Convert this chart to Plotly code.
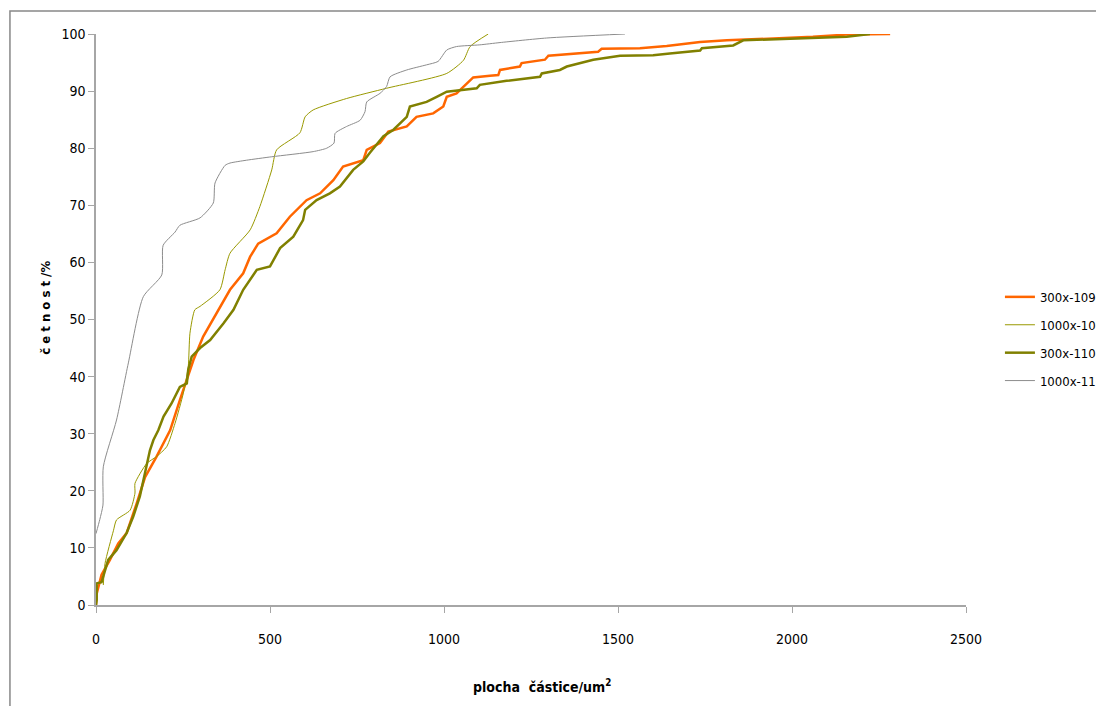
import plotly.graph_objects as go

# 300x-109 (orange, thick)
x_300_109 = [0, 2, 16, 40, 64, 88, 117, 141, 174, 213, 241, 265, 280, 308, 347, 385, 423, 443, 466, 519, 557, 605, 644, 682, 710, 768, 778, 816, 840, 893, 921, 969, 998, 1008, 1036, 1084, 1132, 1156, 1161, 1218, 1223, 1290, 1300, 1443, 1453, 1563, 1640, 1736, 1813, 1966, 2060, 2157, 2282]
y_300_109 = [0, 2, 5.3, 7.9, 10.8, 12.6, 17.8, 22.4, 26, 30.6, 35.9, 40, 42.9, 47, 51.1, 55.2, 58.1, 61, 63.3, 65.1, 68, 70.9, 72.1, 74.4, 76.8, 77.9, 79.7, 80.9, 82.9, 83.8, 85.5, 86.1, 87.3, 89, 89.6, 92.4, 92.7, 92.8, 93.7, 94.3, 94.9, 95.5, 96.2, 96.9, 97.4, 97.5, 97.9, 98.6, 98.9, 99.2, 99.5, 99.9, 100]

# 1000x-109 (olive, thin)
x_1000_109 = [21, 26, 50, 59, 98, 112, 112, 146, 174, 203, 227, 251, 265, 270, 284, 299, 356, 371, 385, 443, 471, 505, 519, 586, 601, 624, 720, 835, 1008, 1056, 1075, 1127]
y_1000_109 = [3.5, 7.3, 13, 14.9, 16.6, 19.6, 21.3, 24.8, 26, 27.7, 31.8, 37.1, 41.7, 47.6, 51.7, 52.3, 55.2, 58.7, 61.6, 65.7, 69.8, 76.2, 79.7, 82.7, 85.5, 86.7, 88.7, 90.5, 93.1, 95.4, 97.8, 100]

# 300x-110 (olive, thick)
x_300_110 = [0, 2, 2, 16, 35, 59, 88, 107, 126, 146, 155, 165, 179, 194, 217, 241, 261, 265, 275, 299, 328, 366, 395, 423, 462, 500, 529, 567, 595, 601, 634, 672, 701, 739, 768, 787, 826, 854, 893, 902, 950, 979, 1008, 1094, 1103, 1180, 1276, 1281, 1333, 1353, 1429, 1506, 1601, 1649, 1736, 1741, 1831, 1860, 1966, 2061, 2157, 2224]
y_300_110 = [0, 0.9, 3.8, 4, 7.9, 9.6, 12.6, 15.5, 19, 24.2, 27.1, 28.9, 30.6, 33, 35.3, 38.2, 38.8, 41.2, 43.5, 45, 46.4, 49.3, 51.7, 55.2, 58.7, 59.3, 62.5, 64.5, 67.4, 69.2, 70.9, 72.1, 73.3, 76.2, 77.7, 79.2, 82.1, 83.2, 85.5, 87.3, 88.1, 89, 89.9, 90.5, 91.1, 91.8, 92.5, 93.1, 93.7, 94.3, 95.5, 96.2, 96.3, 96.6, 97.1, 97.5, 98, 98.9, 99.1, 99.4, 99.5, 100]

# 1000x-110 (grey, thin)
x_1000_110 = [0, 11, 20, 21, 59, 93, 136, 189, 193, 227, 241, 299, 337, 342, 371, 385, 433, 505, 624, 663, 684, 687, 720, 759, 773, 778, 816, 835, 845, 893, 950, 983, 1008, 1036, 1103, 1161, 1295, 1520]
y_1000_110 = [12.5, 15, 17.5, 24.2, 32.4, 42.4, 54, 57.8, 63, 65.3, 66.5, 67.8, 70.4, 73.9, 77, 77.4, 77.9, 78.5, 79.4, 80, 80.9, 82.6, 83.8, 84.9, 86.4, 88.1, 89.6, 90.8, 92.5, 93.7, 94.6, 95.2, 97.2, 97.8, 98.1, 98.5, 99.3, 100]

x_ticks = [0, 500, 1000, 1500, 2000, 2500]
y_ticks = [0, 10, 20, 30, 40, 50, 60, 70, 80, 90, 100]

FONT = "DejaVu Sans Condensed, Lato, sans-serif"

fig = go.Figure()
fig.add_trace(go.Scatter(x=x_300_109, y=y_300_109, mode="lines", name="300x-109", legendgroup="a",
                         line=dict(color="#FF6600", width=2.5)))
fig.add_trace(go.Scatter(x=x_1000_109, y=y_1000_109, mode="lines", name="1000x-109", legendgroup="b",
                         line=dict(color="#999900", width=1, shape="spline", smoothing=0.6)))
fig.add_trace(go.Scatter(x=x_300_110, y=y_300_110, mode="lines", name="300x-110", legendgroup="c",
                         line=dict(color="#808000", width=2.5)))
fig.add_trace(go.Scatter(x=x_1000_110, y=y_1000_110, mode="lines", name="1000x-110", legendgroup="d",
                         line=dict(color="#8C8C8C", width=1, shape="spline", smoothing=0.6)))

axis_common = dict(showgrid=False, zeroline=False, showline=True, linecolor="#A6A6A6",
                   linewidth=1.5, ticks="outside", ticklen=6, tickcolor="#A6A6A6",
                   tickfont=dict(family=FONT, size=14, color="#000000"))

fig.update_xaxes(range=[0, 2500], tickvals=x_ticks, ticktext=[str(v) for v in x_ticks],
                 ticklabelstandoff=14, **axis_common)
fig.update_yaxes(range=[0, 100], tickvals=y_ticks, ticktext=[str(v) for v in y_ticks],
                 **axis_common)

fig.update_layout(
    width=1104, height=706,
    margin=dict(l=88, r=146, t=26, b=109, autoexpand=False),
    paper_bgcolor="white", plot_bgcolor="white",
    showlegend=True,
    legend=dict(x=1.039, y=0.466, xanchor="left", yanchor="middle",
                font=dict(family=FONT, size=13, color="#000000"),
                tracegroupgap=8, itemwidth=30, bgcolor="rgba(0,0,0,0)"),
    shapes=[dict(type="rect", xref="paper", yref="paper",
                 x0=-0.0989, x1=1.3, y0=-0.25, y1=1.0403,
                 line=dict(color="#888888", width=1.5), layer="below")],
    annotations=[
        dict(text="č e t n o s t /%", xref="paper", yref="paper",
             x=-0.059, y=0.52, textangle=-90, showarrow=False,
             font=dict(family=FONT, size=13, color="#000000", weight="bold"),
             xanchor="center", yanchor="middle"),
        dict(text="plocha  částice/um<sup>2</sup>", xref="paper", yref="paper",
             x=0.5126, y=-0.142, showarrow=False,
             font=dict(family=FONT, size=14, color="#000000", weight="bold"),
             xanchor="center", yanchor="middle"),
    ],
)

fig.write_html("out.html")
